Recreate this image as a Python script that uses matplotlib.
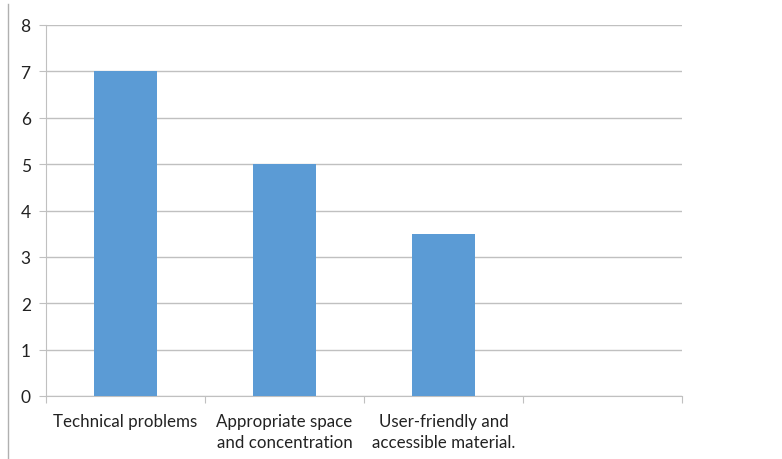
import numpy as np
import matplotlib
matplotlib.use('Agg')
import matplotlib.pyplot as plt
from matplotlib.lines import Line2D

plt.rcParams['font.family'] = ['Lato', 'DejaVu Sans']

# data
categories = ['Technical problems', 'Appropriate space\nand concentration',
              'User-friendly and\naccessible material.', '']
values = [7, 5, 3.5, 0]
yticks = [0, 1, 2, 3, 4, 5, 6, 7, 8]

grid_col = '#c0c0c0'
bar_col = '#5b9bd5'

fig = plt.figure(figsize=(7.82, 4.6), dpi=100)
ax = fig.add_axes([46/782, 63/460, (682-46)/782, (397-26)/460])

x = np.arange(len(categories))
ax.bar(x[:3], values[:3], width=0.4, color=bar_col, zorder=3)

ax.set_xlim(-0.5, len(categories) - 0.5)
ax.set_ylim(0, 8)
ax.set_yticks(yticks)
ax.yaxis.grid(True, color=grid_col, linewidth=1)
ax.set_axisbelow(True)

for s in ['top', 'right']:
    ax.spines[s].set_visible(False)
ax.spines['left'].set_color(grid_col)
ax.spines['bottom'].set_color(grid_col)

ax.tick_params(axis='y', length=5, color=grid_col, labelsize=12.5,
               labelcolor='#222222', pad=6)
# category boundary ticks on x
ax.set_xticks(np.arange(-0.5, len(categories) + 0.5, 1))
ax.set_xticklabels([])
ax.tick_params(axis='x', which='major', length=5, color=grid_col)
ax.set_xticks(x, minor=True)
ax.set_xticklabels(categories, minor=True, fontsize=12.2, color='#222222',
                   linespacing=1.4, va='top')
ax.tick_params(axis='x', which='minor', length=0, pad=12)

# left border line of the screenshot
fig.add_artist(Line2D([8/782, 8/782], [0, 1 - 5/460], color='#b0b0b0',
                      linewidth=1, transform=fig.transFigure))

fig.savefig('out.png', dpi=100)
